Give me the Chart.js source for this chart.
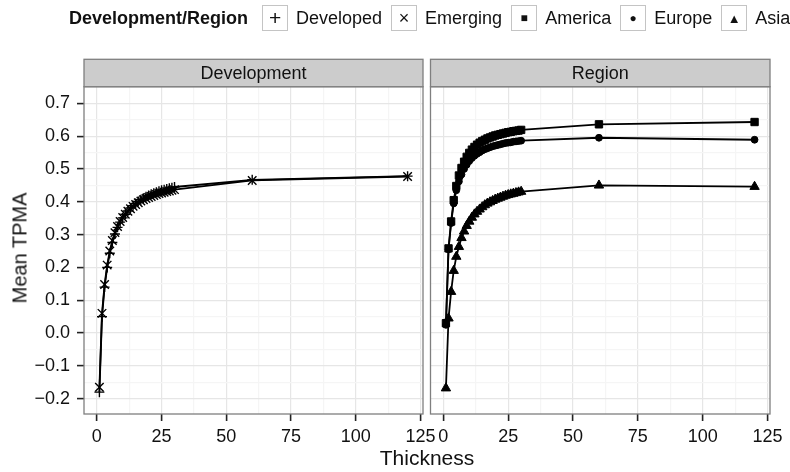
<!DOCTYPE html>
<html>
<head>
<meta charset="utf-8">
<script src="https://cdn.jsdelivr.net/npm/chart.js@4.4.0/dist/chart.umd.min.js"></script>
<style>
  body { margin: 0; background: #fff; font-family: 'Liberation Sans', Arial, sans-serif; color: #111; }
  #wrap { position: relative; width: 790px; height: 472px; overflow: hidden; }
  canvas { position: absolute; left: 0; top: 0; }
  .ytitle { position: absolute; left: 20px; top: 248px; transform: translate(-50%, -50%) rotate(-90deg); font-size: 20px; white-space: nowrap; }
  .xtitle { position: absolute; left: 427px; top: 458px; transform: translate(-50%, -50%); font-size: 21px; white-space: nowrap; }
  #legend { position: absolute; left: 69px; top: 5px; height: 26px; display: flex; align-items: center; font-size: 18px; white-space: nowrap; }
  #legend .title { font-weight: bold; margin-right: 14px; }
  #legend .key { width: 26px; height: 26px; border: 1px solid #c4c4c4; box-sizing: border-box; display: flex; align-items: center; justify-content: center; }
  #legend .lab { padding: 0 9px 0 8px; }
</style>
</head>
<body>
<div id="wrap">
  <canvas id="left" width="790" height="472"></canvas>
  <canvas id="right" width="790" height="472"></canvas>
  <div id="legend"><span class="title">Development/Region</span></div>
  <div class="ytitle">Mean TPMA</div>
  <div class="xtitle">Thickness</div>
</div>
<script>
// data
const thickness = [1, 2, 3, 4, 5, 6, 7, 8, 9, 10, 11, 12, 13, 14, 15, 16, 17, 18, 19, 20,
                   21, 22, 23, 24, 25, 26, 27, 28, 29, 30, 60, 120];

const developed = [-0.180, 0.050, 0.140, 0.200, 0.243, 0.276, 0.302, 0.322, 0.338, 0.351,
                   0.362, 0.372, 0.381, 0.388, 0.395, 0.401, 0.406, 0.411, 0.415, 0.419,
                   0.423, 0.426, 0.429, 0.432, 0.435, 0.437, 0.439, 0.441, 0.443, 0.445, 0.467, 0.478];
const emerging  = [-0.165, 0.060, 0.148, 0.207, 0.250, 0.282, 0.306, 0.325, 0.340, 0.352,
                   0.362, 0.371, 0.379, 0.386, 0.392, 0.397, 0.402, 0.406, 0.410, 0.413,
                   0.416, 0.419, 0.422, 0.425, 0.427, 0.429, 0.431, 0.433, 0.435, 0.437, 0.465, 0.477];

const america = [0.030, 0.258, 0.340, 0.405, 0.448, 0.480, 0.503, 0.522, 0.537, 0.549,
                 0.559, 0.567, 0.574, 0.580, 0.585, 0.589, 0.593, 0.596, 0.599, 0.602,
                 0.604, 0.606, 0.608, 0.610, 0.612, 0.613, 0.615, 0.616, 0.617, 0.619, 0.636, 0.643];
const europe  = [0.025, 0.255, 0.335, 0.395, 0.435, 0.462, 0.483, 0.500, 0.513, 0.524,
                 0.533, 0.540, 0.546, 0.551, 0.556, 0.560, 0.563, 0.566, 0.569, 0.571,
                 0.573, 0.575, 0.577, 0.579, 0.580, 0.581, 0.583, 0.584, 0.585, 0.586, 0.595, 0.589];
const asia    = [-0.168, 0.045, 0.126, 0.190, 0.233, 0.263, 0.290, 0.310, 0.327, 0.340,
                 0.352, 0.362, 0.370, 0.377, 0.384, 0.390, 0.395, 0.399, 0.403, 0.407,
                 0.410, 0.413, 0.416, 0.419, 0.421, 0.423, 0.425, 0.427, 0.429, 0.431, 0.450, 0.446];

const xMajor = [0, 25, 50, 75, 100, 125];
const xMinor = [12.5, 37.5, 62.5, 87.5, 112.5];
const yMajor = [-0.2, -0.1, 0, 0.1, 0.2, 0.3, 0.4, 0.5, 0.6, 0.7];
const yLabels = ['\u22120.2', '\u22120.1', '0.0', '0.1', '0.2', '0.3', '0.4', '0.5', '0.6', '0.7'];
const yMinor = [-0.15, -0.05, 0.05, 0.15, 0.25, 0.35, 0.45, 0.55, 0.65];

const legendNames = ['Developed', 'Emerging', 'America', 'Europe', 'Asia'];
const legendSymbols = ['+', '\u00d7', '\u25a0', '\u25cf', '\u25b2'];
const legendSymbolSize = [21, 18, 12, 12, 13];

const FONT = "'Liberation Sans', Arial, sans-serif";

// legend
const legendEl = document.getElementById('legend');
legendNames.forEach((name, i) => {
  const key = document.createElement('span');
  key.className = 'key';
  key.style.fontSize = legendSymbolSize[i] + 'px';
  key.textContent = legendSymbols[i];
  const lab = document.createElement('span');
  lab.className = 'lab';
  lab.textContent = name;
  legendEl.appendChild(key);
  legendEl.appendChild(lab);
});

const near = (list, v) => list.some(m => Math.abs(m - v) < 1e-9);

const panelPlugin = {
  id: 'panel',
  beforeDraw(chart) {
    const a = chart.chartArea, c = chart.ctx;
    c.save();
    c.fillStyle = '#ffffff';
    c.fillRect(a.left, a.top, a.right - a.left, a.bottom - a.top);
    c.restore();
  },
  afterDraw(chart, args, opts) {
    const a = chart.chartArea, c = chart.ctx;
    c.save();
    c.strokeStyle = '#7f7f7f';
    c.lineWidth = 1.3;
    c.strokeRect(a.left, a.top, a.right - a.left, a.bottom - a.top);
    // strip
    const h = 27.4;
    c.fillStyle = '#cccccc';
    c.fillRect(a.left, a.top - h, a.right - a.left, h);
    c.strokeRect(a.left, a.top - h, a.right - a.left, h);
    c.fillStyle = '#111';
    c.font = '18px ' + FONT;
    c.textAlign = 'center';
    c.textBaseline = 'middle';
    c.fillText(opts.title, (a.left + a.right) / 2, a.top - h / 2 + 1);
    c.restore();
  }
};

function makePanel(id, title, series, padLeft, padRight, showY) {
  const datasets = series.map(s => ({
    label: s.name,
    data: thickness.map((t, i) => ({ x: t, y: s.values[i] })),
    showLine: true,
    borderColor: '#000',
    borderWidth: 1.8,
    pointStyle: s.style,
    pointRadius: s.radius,
    pointBorderWidth: s.pw,
    pointBackgroundColor: '#000',
    pointBorderColor: '#000'
  }));

  return new Chart(document.getElementById(id), {
    type: 'scatter',
    data: { datasets },
    plugins: [panelPlugin],
    options: {
      responsive: false,
      animation: false,
      layout: { padding: { left: padLeft, right: padRight, top: 86.7, bottom: 0 }, autoPadding: false },
      plugins: { legend: { display: false }, tooltip: { enabled: false }, panel: { title } },
      scales: {
        x: {
          type: 'linear', min: -4.95, max: 125.95,
          afterBuildTicks: sc => { sc.ticks = xMajor.concat(xMinor).sort((a, b) => a - b).map(v => ({ value: v })); },
          afterFit: sc => { sc.height = 58; },
          border: { display: false },
          grid: {
            color: c => near(xMajor, c.tick.value) ? '#e6e6e6' : '#f5f5f5',
            lineWidth: 1.2,
            tickLength: 7,
            tickColor: c => near(xMajor, c.tick.value) ? '#222' : 'rgba(0,0,0,0)',
            tickWidth: 1.6
          },
          ticks: {
            autoSkip: false, maxRotation: 0, padding: 5,
            color: '#111', font: { family: FONT, size: 18 },
            callback: v => near(xMajor, v) ? String(v) : ''
          }
        },
        y: {
          type: 'linear', min: -0.2466, max: 0.7506,
          afterBuildTicks: sc => { sc.ticks = yMajor.concat(yMinor).sort((a, b) => a - b).map(v => ({ value: v })); },
          afterFit: sc => { sc.width = showY ? 84 : 0; },
          border: { display: false },
          grid: {
            color: c => near(yMajor, c.tick.value) ? '#e6e6e6' : '#f5f5f5',
            lineWidth: 1.2,
            drawTicks: showY,
            tickLength: 7,
            tickColor: c => near(yMajor, c.tick.value) ? '#222' : 'rgba(0,0,0,0)',
            tickWidth: 1.6
          },
          ticks: {
            display: showY, autoSkip: false, padding: 7,
            color: '#111', font: { family: FONT, size: 18 },
            callback: v => {
              const k = yMajor.findIndex(m => Math.abs(m - v) < 1e-9);
              return k >= 0 ? yLabels[k] : '';
            }
          }
        }
      }
    }
  });
}

makePanel('left', 'Development', [
  { name: 'Developed', values: developed, style: 'cross', radius: 5, pw: 1.4 },
  { name: 'Emerging', values: emerging, style: 'crossRot', radius: 6, pw: 1.4 }
], 0, 367, true);

makePanel('right', 'Region', [
  { name: 'America', values: america, style: 'rect', radius: 5.2, pw: 1 },
  { name: 'Europe', values: europe, style: 'circle', radius: 3.4, pw: 1 },
  { name: 'Asia', values: asia, style: 'triangle', radius: 5.4, pw: 1 }
], 430.5, 20, false);
</script>
</body>
</html>
